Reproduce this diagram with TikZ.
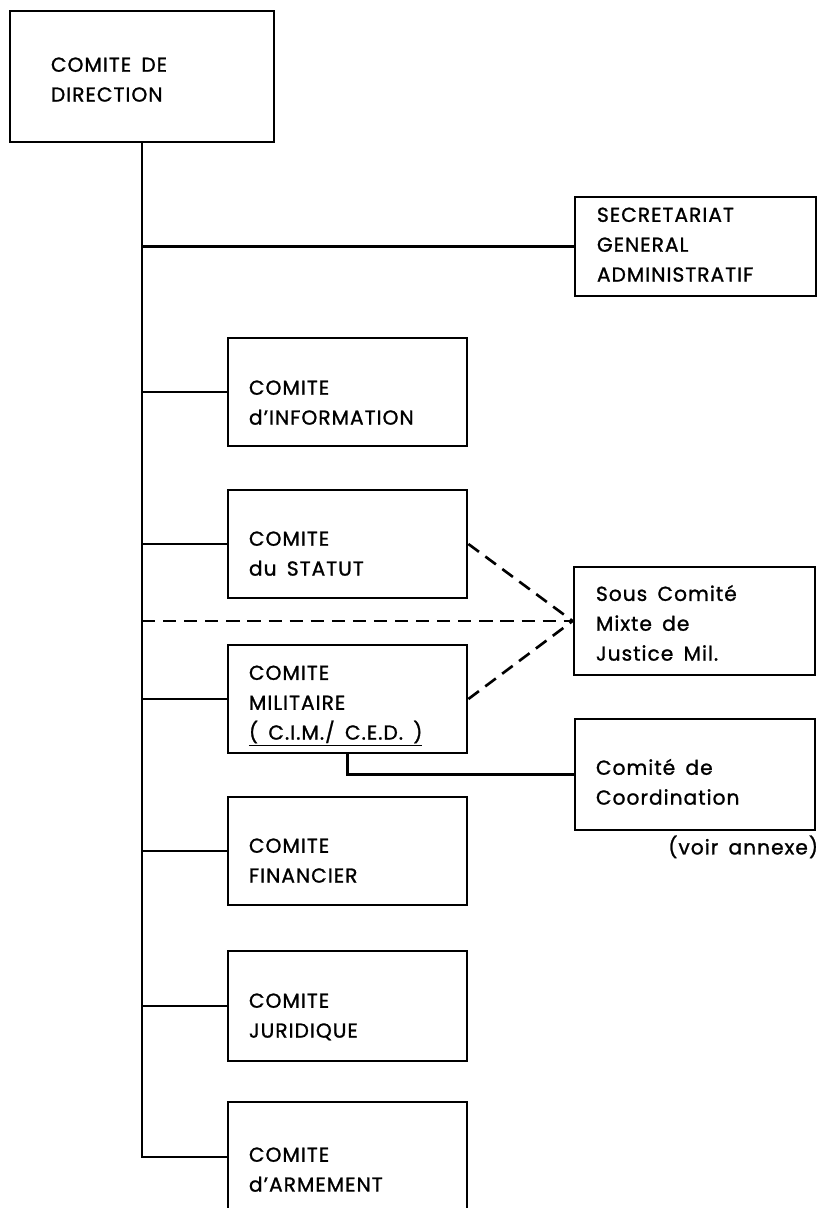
\documentclass[tikz,border=0pt]{standalone}
\usepackage{fontspec}
\setmainfont{Poppins}[LetterSpace=5,WordSpace=1.6,FakeBold=1.2]
\usetikzlibrary{calc}

\tikzset{
  box/.style={draw,line width=1.6pt,minimum width=4.78cm,minimum height=2.16cm,inner sep=0pt},
  lbl/.style={anchor=base west,align=left,inner sep=0pt,font=\fontsize{11.5}{17}\selectfont},
  link/.style={line width=1.3pt},
  dashlink/.style={line width=1.5pt,dash pattern=on 7.5pt off 4.5pt},
}

\begin{document}
\begin{tikzpicture}[x=0.02cm,y=-0.02cm]
        \clip (0,0) rectangle (821,1208);

        % boxes
        \node[box,minimum width=5.28cm,minimum height=2.62cm] (dir) at (142,76.5) {};
        \node[box,minimum width=4.82cm,minimum height=1.98cm] (sec) at (695.5,246.5) {};
        \node[box] (info) at (347.5,392) {};
        \node[box] (stat) at (347.5,544) {};
        \node[box] (mil) at (347.5,699) {};
        \node[box,minimum width=4.82cm] (sc) at (694.5,621) {};
        \node[box,minimum width=4.8cm,minimum height=2.22cm] (coo) at (695,774.5) {};
        \node[box] (fin) at (347.5,851) {};
        \node[box,minimum height=2.2cm] (jur) at (347.5,1006) {};
        \node[box,minimum height=2.2cm] (arm) at (347.5,1157) {};

        % texts (base = last line)
        \node[lbl] (dirt) at ($(dir.north west)+(42,92)$) {COMITE DE\\DIRECTION};
        \node[lbl] (sect) at ($(sec.north west)+(23,86)$) {SECRETARIAT\\GENERAL\\ADMINISTRATIF};
        \node[lbl] (infot) at ($(info.north west)+(22,88)$) {COMITE\\d'INFORMATION};
        \node[lbl] (statt) at ($(stat.north west)+(22,87)$) {COMITE\\du STATUT};
        \node[lbl] (milt) at ($(mil.north west)+(22,96)$) {COMITE\\MILITAIRE\\\underline{( C.I.M./ C.E.D. )}};
        \node[lbl] (sct) at ($(sc.north west)+(23,95)$) {Sous Comité\\Mixte de\\Justice Mil.};
        \node[lbl] (coot) at ($(coo.north west)+(22,87)$) {Comité de\\Coordination};
        \node[lbl,anchor=base east] (annexe) at ($(coo.south east)+(2,23)$) {(voir annexe)};
        \node[lbl] (fint) at ($(fin.north west)+(22,87)$) {COMITE\\FINANCIER};
        \node[lbl] (jurt) at ($(jur.north west)+(22,88)$) {COMITE\\JURIDIQUE};
        \node[lbl] (armt) at ($(arm.north west)+(22,91)$) {COMITE\\d'ARMEMENT};

        % links
        \draw[link] (dir.south) |- (arm.west);
        \draw[link] (dir.south |- sec.west) -- (sec.west);
        \draw[link] (dir.south |- info.west) -- (info.west);
        \draw[link] (dir.south |- stat.west) -- (stat.west);
        \draw[link] (dir.south |- mil.west) -- (mil.west);
        \draw[link] (dir.south |- fin.west) -- (fin.west);
        \draw[link] (dir.south |- jur.west) -- (jur.west);
        \draw[link] (mil.south) |- (coo.west);

        \draw[dashlink] (dir.south |- sc.west) -- (sc.west);
        \draw[dashlink] (stat.east) -- (sc.west);
        \draw[dashlink] (mil.east) -- (sc.west);
\end{tikzpicture}
\end{document}
